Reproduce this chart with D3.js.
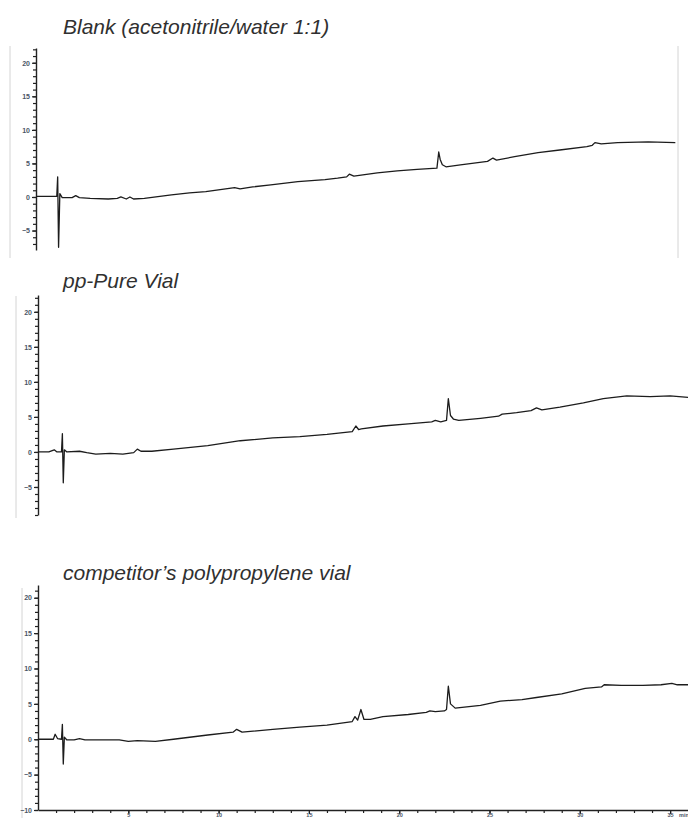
<!DOCTYPE html>
<html>
<head>
<meta charset="utf-8">
<script src="https://cdn.jsdelivr.net/npm/d3@7"></script>
<style>
  body { margin: 0; background: #fff; }
  .title { font-family: "Liberation Sans Narrow", "Liberation Sans", sans-serif; font-style: italic; font-size: 21px; fill: #303030; }
  .tick text, .unit { font-family: "Liberation Sans", sans-serif; font-size: 7px; fill: #4a5566; }
  .xaxis .tick text, .unit { font-size: 5.5px; }
</style>
</head>
<body>
<div id="chart"></div>
<script>
// retention time (min) and detector signal
var blankTime = [0, 1.0, 1.15, 1.2, 1.25, 1.32, 1.45, 2.0, 2.2, 2.4, 3.0, 4.0, 4.5, 4.7, 5.0, 5.2, 5.4, 6.0, 7.5, 8.5, 9.4, 10.5, 11.0, 11.3, 12.0, 13.0, 14.5, 16.0, 16.7, 17.2, 17.35, 17.6, 18.9, 20.0, 21.1, 22.2, 22.3, 22.38, 22.5, 22.7, 23.5, 25.0, 25.3, 25.5, 26.5, 27.8, 29.0, 30.5, 30.8, 30.95, 31.3, 32.2, 33.9, 35.4];
var blankSignal = [0.1, 0.1, 0.1, 3.0, -7.5, 0.5, -0.1, -0.1, 0.2, -0.1, -0.2, -0.3, -0.2, 0.0, -0.3, 0.0, -0.3, -0.2, 0.3, 0.6, 0.8, 1.2, 1.4, 1.2, 1.5, 1.8, 2.3, 2.6, 2.8, 3.0, 3.4, 3.1, 3.6, 3.9, 4.1, 4.3, 6.7, 5.6, 4.8, 4.5, 4.8, 5.3, 5.8, 5.5, 6.0, 6.6, 7.0, 7.5, 7.7, 8.1, 7.9, 8.1, 8.2, 8.1];

var ppPureTime = [0, 0.6, 0.9, 1.05, 1.3, 1.35, 1.4, 1.46, 1.6, 2.3, 2.7, 3.2, 4.0, 4.7, 5.3, 5.5, 5.7, 6.3, 7.5, 9.4, 11.2, 13.0, 14.5, 16.0, 17.4, 17.6, 17.75, 17.9, 19.1, 20.5, 21.8, 22.0, 22.3, 22.62, 22.72, 22.84, 23.0, 23.3, 24.5, 25.5, 25.7, 26.5, 27.3, 27.6, 27.9, 28.9, 30.2, 31.3, 32.6, 33.9, 35.0, 36.0];
var ppPureSignal = [0, 0.0, 0.3, 0.0, 0.0, 2.6, -4.4, 0.3, 0.0, 0.1, -0.1, -0.3, -0.2, -0.3, -0.1, 0.4, 0.1, 0.1, 0.4, 0.9, 1.6, 2.0, 2.2, 2.5, 2.9, 3.7, 3.2, 3.3, 3.7, 4.0, 4.3, 4.5, 4.3, 4.5, 7.6, 5.2, 4.7, 4.5, 4.8, 5.1, 5.4, 5.6, 5.9, 6.3, 6.0, 6.4, 7.0, 7.6, 8.0, 7.9, 8.0, 7.8];

var competitorTime = [0, 0.85, 0.95, 1.08, 1.3, 1.35, 1.4, 1.46, 1.6, 2.0, 2.3, 2.6, 3.5, 4.5, 5.0, 5.5, 6.5, 7.5, 9.4, 10.8, 11.0, 11.3, 13.0, 14.5, 16.0, 17.4, 17.55, 17.7, 17.88, 18.05, 18.4, 19.1, 20.5, 21.5, 21.7, 22.0, 22.5, 22.62, 22.72, 22.84, 23.1, 24.5, 25.6, 26.8, 27.6, 29.0, 30.3, 31.2, 31.35, 32.3, 33.5, 34.5, 35.1, 35.4, 36.0];
var competitorSignal = [0, 0, 0.7, 0.1, 0, 2.1, -3.5, 0.3, -0.1, -0.1, 0.1, -0.1, -0.1, -0.1, -0.3, -0.2, -0.3, 0.0, 0.6, 1.0, 1.4, 1.0, 1.4, 1.7, 2.0, 2.5, 3.2, 2.7, 4.2, 2.8, 2.8, 3.2, 3.5, 3.8, 4.0, 3.9, 4.0, 4.2, 7.5, 5.0, 4.4, 4.8, 5.4, 5.6, 5.9, 6.4, 7.2, 7.4, 7.7, 7.6, 7.6, 7.7, 7.9, 7.7, 7.7];

var titles = ["Blank (acetonitrile/water 1:1)", "pp-Pure Vial", "competitor\u2019s polypropylene vial"];
var yMajorTicks = [-10, -5, 0, 5, 10, 15, 20];
var xMajorTicks = [5, 10, 15, 20, 25, 30, 35];

var width = 688, height = 818;

// layout of each stacked panel (pixels)
var panels = [
  { time: blankTime, signal: blankSignal, title: titles[0], titleY: 34, axisX: 36, top: 48, bottom: 250, yDomain: [-7.9, 22.2], frameX: 10, frameTop: 46, frameBottom: 258, rightFrame: 678 },
  { time: ppPureTime, signal: ppPureSignal, title: titles[1], titleY: 288, axisX: 38, top: 295, bottom: 515, yDomain: [-9, 22.4], frameX: 16, frameTop: 296, frameBottom: 518 },
  { time: competitorTime, signal: competitorSignal, title: titles[2], titleY: 580, axisX: 38, top: 585, bottom: 810, yDomain: [-10, 21.8], frameX: 22, frameTop: 588, frameBottom: 818, xAxis: true }
];

var svg = d3.select("#chart").append("svg")
  .attr("width", width)
  .attr("height", height);

panels.forEach(function (p, i) {
  var x = d3.scaleLinear().domain([0, 36]).range([p.axisX, p.axisX + 36 * 18.06]);
  var y = d3.scaleLinear().domain(p.yDomain).range([p.bottom, p.top]);
  var g = svg.append("g").attr("class", "panel");

  // faint frame edges
  g.append("line")
    .attr("x1", p.frameX).attr("x2", p.frameX)
    .attr("y1", p.frameTop).attr("y2", p.frameBottom)
    .attr("stroke", "#d4d4d4").attr("stroke-width", 1);
  if (p.rightFrame) {
    g.append("line")
      .attr("x1", p.rightFrame).attr("x2", p.rightFrame)
      .attr("y1", p.frameTop).attr("y2", p.frameBottom)
      .attr("stroke", "#d4d4d4").attr("stroke-width", 1);
  }

  // title
  g.append("text")
    .attr("class", "title")
    .attr("x", 63)
    .attr("y", p.titleY)
    .text(p.title);

  // y axis: minor ticks every 1, labelled ticks every 5
  var minor = d3.range(Math.ceil(p.yDomain[0]), Math.floor(p.yDomain[1]) + 1);
  g.append("g")
    .attr("transform", "translate(" + p.axisX + ",0)")
    .call(d3.axisLeft(y).tickValues(minor).tickSize(3).tickFormat(""))
    .call(function (a) {
      a.select(".domain").remove();
      a.selectAll("line").attr("stroke", "#222").attr("stroke-width", 1.2);
    });
  g.append("g")
    .attr("transform", "translate(" + p.axisX + ",0)")
    .call(d3.axisLeft(y)
      .tickValues(yMajorTicks.filter(function (v) { return v >= p.yDomain[0] && v <= p.yDomain[1]; }))
      .tickSize(4).tickSizeOuter(0).tickPadding(2))
    .call(function (a) {
      a.select(".domain").attr("stroke", "#222").attr("stroke-width", 1.4);
      a.selectAll("line").attr("stroke", "#222").attr("stroke-width", 1.2);
      a.selectAll("text").attr("font-weight", "bold");
    });

  // x axis only under the last trace
  if (p.xAxis) {
    g.append("g")
      .attr("transform", "translate(0," + p.bottom + ")")
      .call(d3.axisBottom(x).tickValues(d3.range(1, 37)).tickSize(3).tickFormat(""))
      .call(function (a) {
        a.select(".domain").remove();
        a.selectAll("line").attr("stroke", "#222").attr("stroke-width", 1.2);
      });
    g.append("g")
      .attr("class", "xaxis")
      .attr("transform", "translate(0," + p.bottom + ")")
      .call(d3.axisBottom(x).tickValues(xMajorTicks).tickSize(4).tickSizeOuter(0))
      .call(function (a) {
        a.select(".domain").attr("stroke", "#222").attr("stroke-width", 1.4);
        a.selectAll("line").attr("stroke", "#222").attr("stroke-width", 1.2);
        a.selectAll("text").attr("font-weight", "bold").attr("y", 3.5);
      });
    g.append("text")
      .attr("class", "unit")
      .attr("x", x(35) + 9)
      .attr("y", p.bottom + 7.3)
      .attr("font-weight", "bold")
      .text("min");
  }

  // trace
  var points = p.time.map(function (t, k) { return [t, p.signal[k]]; });
  var line = d3.line()
    .x(function (d) { return x(d[0]); })
    .y(function (d) { return y(d[1]); });
  g.append("path")
    .datum(points)
    .attr("d", line)
    .attr("fill", "none")
    .attr("stroke", "#1c1c1c")
    .attr("stroke-width", 1.3)
    .attr("stroke-linejoin", "round");
});
</script>
</body>
</html>
